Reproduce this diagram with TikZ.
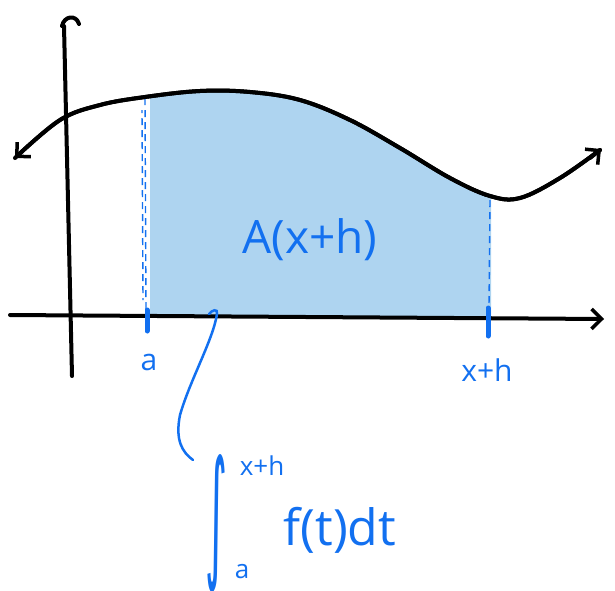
\documentclass[tikz,border=0pt]{standalone}
\usepackage{fontspec}
\setmainfont{Open Sans}
\newfontfamily\djv{DejaVu Sans}
\usetikzlibrary{arrows.meta}
\definecolor{hblue}{RGB}{18,112,240}
\definecolor{hfill}{RGB}{174,212,240}
\tikzset{
  blackline/.style={line width=4pt, line cap=round, line join=round},
  barb/.style={-{Straight Barb[length=10pt,width=20pt,line width=3.5pt]}},
  dashline/.style={hblue, line width=1.4pt, dash pattern=on 7pt off 5pt},
  tick/.style={hblue, line width=5pt, line cap=round},
  lbl/.style={text=hblue, inner sep=0pt}
}
\begin{document}
\begin{tikzpicture}[x=1pt,y=-1pt]
\useasboundingbox (0,0) rectangle (615,590);
% shaded area
\begin{scope}
  \clip (150,0) rectangle (491,317);
  \fill[hfill] plot[smooth, tension=0.6] coordinates {(15,158) (60,120) (100,105) (145,97) (200,91) (250,92) (300,100) (350,120) (400,148) (450,178) (490,196) (520,198) (560,178) (600,150)} -- (600,317) -- (15,317) -- cycle;
\end{scope}
% dashed verticals
\draw[dashline] (145,98) -- (146,312);
\draw[dashline, dash phase=4pt] (142,110) -- (143,300);
\draw[dashline] (490,200) -- (489,306);
% axes
\draw[blackline, barb] (10,315) -- (604,319);
\draw[blackline] (72,376) -- (64,26);
\draw[blackline] (62,26) .. controls (64,16) and (76,14) .. (79,24);
% curve
\draw[blackline, barb] plot[smooth, tension=0.6] coordinates {(600,150) (560,178) (520,198) (490,196) (450,178) (400,148) (350,120) (300,100) (250,92) (200,91) (145,97) (100,105) (60,120) (15,158)};
\draw[blackline] plot[smooth, tension=0.6] coordinates {(15,158) (60,120) (100,105) (145,97) (200,91) (250,92) (300,100) (350,120) (400,148) (450,178) (490,196) (520,198) (560,178) (600,150)};
\draw[blackline, barb] (590,158) -- (601,149);
% ticks
\draw[tick] (147,310) -- (147,331);
\draw[tick] (488,308) -- (488,336);
% labels
\node[lbl, font=\fontsize{30}{34}\selectfont] (la) at (149,362) {a};
\node[lbl, font=\fontsize{30}{34}\selectfont] (lxh) at (487,370) {x+h};
\node[lbl, font=\fontsize{46}{52}\selectfont] (A) at (310,240) {A(x+h)};
% pointer
\draw[hblue, line width=2.5pt, line cap=round] (209,314) .. controls (212,310) and (218,308) .. (217,314) .. controls (213,340) and (190,380) .. (180,415) .. controls (175,440) and (182,452) .. (193,460);
% integral
\node[lbl] (int) at (216,524) {\resizebox{22pt}{108pt}{\djv\fontsize{30}{34}\selectfont ∫}};
\node[lbl, font=\fontsize{26}{30}\selectfont] (up) at (262,466) {x+h};
\node[lbl, font=\fontsize{26}{30}\selectfont] (lo) at (242,572) {a};
\node[lbl, font=\fontsize{50}{56}\selectfont] (body) at (340,530) {f(t)dt};
\end{tikzpicture}
\end{document}
